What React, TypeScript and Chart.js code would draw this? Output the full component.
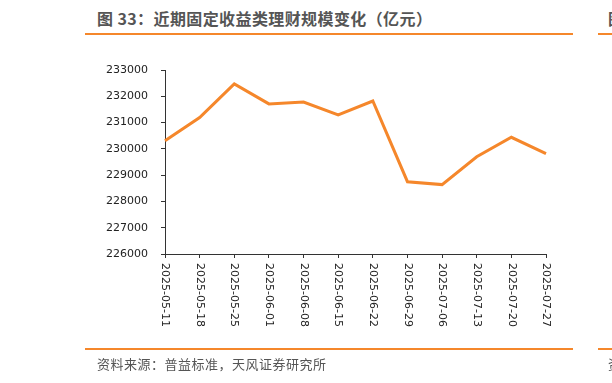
import React, { useEffect, useRef } from "react";
import { Chart, registerables } from "chart.js";

Chart.register(...registerables);

const TITLE = "图 33：近期固定收益类理财规模变化（亿元）";
const SOURCE = "资料来源：普益标准，天风证券研究所";
const categories = [
  "2025-05-11", "2025-05-18", "2025-05-25", "2025-06-01", "2025-06-08", "2025-06-15",
  "2025-06-22", "2025-06-29", "2025-07-06", "2025-07-13", "2025-07-20", "2025-07-27",
];
const scaleValues = [
  230310, 231190, 232470, 231710, 231780, 231290,
  231820, 228750, 228640, 229700, 230440, 229820,
];
const yMin = 226000;
const yMax = 233000;
const yStep = 1000;

const ORANGE = "#F5872B";

const rotatedLabels = {
  id: "rotatedLabels",
  afterDraw(chart: any) {
    const scale = chart.scales.x;
    const ctx = chart.ctx;
    ctx.save();
    ctx.fillStyle = "#222";
    ctx.font = "11px 'DejaVu Sans'";
    ctx.textAlign = "left";
    ctx.textBaseline = "middle";
    const labels = chart.data.labels as string[];
    labels.forEach((lab, i) => {
      const x = scale.getPixelForTick(i);
      const y = chart.chartArea.bottom + 9;
      ctx.save();
      ctx.translate(x, y);
      ctx.rotate(Math.PI / 2);
      ctx.fillText(lab, 0, 0);
      ctx.restore();
    });
    ctx.restore();
  },
};

export default function App() {
  const ref = useRef<HTMLCanvasElement | null>(null);
  useEffect(() => {
    const prevMargin = document.body.style.margin;
    document.body.style.margin = "0";
    const chart = new Chart(ref.current!, {
      type: "line",
      data: {
        labels: categories,
        datasets: [
          {
            data: scaleValues,
            borderColor: ORANGE,
            borderWidth: 3,
            pointRadius: 0,
            tension: 0,
            fill: false,
          },
        ],
      },
      options: {
        animation: false,
        responsive: false,
        devicePixelRatio: 1,
        layout: { padding: { left: 0, right: 66, top: 70, bottom: 0 } },
        plugins: { legend: { display: false }, tooltip: { enabled: false } },
        scales: {
          x: {
            type: "category",
            offset: false,
            afterFit: (s: any) => {
              s.height = 383 - 254;
            },
            grid: {
              display: true,
              drawOnChartArea: false,
              drawTicks: true,
              tickLength: 4,
              color: "#333",
            },
            border: { display: true, color: "#333", width: 1 },
            ticks: {
              color: "rgba(0,0,0,0)",
              autoSkip: false,
              maxRotation: 90,
              minRotation: 90,
              font: { size: 11, family: "DejaVu Sans" },
            },
          },
          y: {
            min: yMin,
            max: yMax,
            afterFit: (s: any) => {
              s.width = 165;
            },
            grid: {
              display: true,
              drawOnChartArea: false,
              drawTicks: true,
              tickLength: 4,
              color: "#333",
            },
            border: { display: true, color: "#333", width: 1 },
            ticks: {
              stepSize: yStep,
              color: "#222",
              padding: 13,
              font: { size: 11, family: "DejaVu Sans" },
              callback: (v: any) => String(v),
            },
          },
        },
      },
      plugins: [rotatedLabels],
    });
    return () => {
      chart.destroy();
      document.body.style.margin = prevMargin;
    };
  }, []);

  const cjk = "'Noto Sans CJK SC', sans-serif";
  return (
    <div
      style={{
        position: "fixed",
        left: 0,
        top: 0,
        width: 612,
        height: 383,
        overflow: "hidden",
        background: "#fff",
      }}
    >
      <div
        style={{
          position: "absolute",
          left: 97,
          top: 7,
          fontFamily: cjk,
          fontSize: 16,
          fontWeight: "bold",
          letterSpacing: "0.4px",
          color: "#555",
          whiteSpace: "nowrap",
          lineHeight: "22px",
        }}
      >
        {TITLE}
      </div>
      <div
        style={{
          position: "absolute",
          left: 608,
          top: 7,
          fontFamily: cjk,
          fontSize: 16,
          fontWeight: "bold",
          color: "#555",
          whiteSpace: "nowrap",
          lineHeight: "22px",
        }}
      >
        图
      </div>
      <div style={{ position: "absolute", left: 85, top: 33, width: 488, height: 2, background: ORANGE }} />
      <div style={{ position: "absolute", left: 598, top: 33, width: 20, height: 2, background: ORANGE }} />
      <canvas
        ref={ref}
        width={612}
        height={383}
        style={{ position: "absolute", left: 0, top: 0, width: 612, height: 383 }}
      />
      <div style={{ position: "absolute", left: 85, top: 348, width: 488, height: 2, background: ORANGE }} />
      <div style={{ position: "absolute", left: 598, top: 348, width: 20, height: 2, background: ORANGE }} />
      <div
        style={{
          position: "absolute",
          left: 97,
          top: 355,
          fontFamily: cjk,
          fontSize: 13,
          letterSpacing: "0.5px",
          color: "#555",
          whiteSpace: "nowrap",
          lineHeight: "18px",
        }}
      >
        {SOURCE}
      </div>
      <div
        style={{
          position: "absolute",
          left: 608,
          top: 355,
          fontFamily: cjk,
          fontSize: 13,
          color: "#555",
          whiteSpace: "nowrap",
          lineHeight: "18px",
        }}
      >
        资
      </div>
    </div>
  );
}
